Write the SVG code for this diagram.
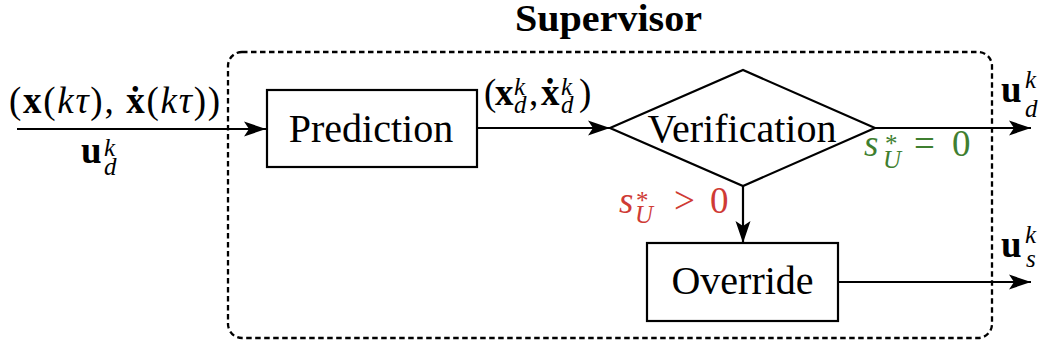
<svg xmlns="http://www.w3.org/2000/svg" width="1047" height="350" viewBox="0 0 1047 350">
  <style>
    .box { fill: #fff; stroke: #000; stroke-width: 2.2; }
    .wire { fill: none; stroke: #000; stroke-width: 2.2; marker-end: url(#arrow); }
    .frame { fill: none; stroke: #000; stroke-width: 2.3; stroke-dasharray: 5.5 3.5; }
    .lbl { font-family: "Liberation Serif", "Times New Roman", serif; font-size: 40px; fill: #000; }
    .title { font-family: "Liberation Serif", "Times New Roman", serif; font-size: 38px; font-weight: bold; fill: #000; }
    .m { font-family: "Liberation Serif", "Times New Roman", serif; font-size: 37px; fill: #000; }
    .b { font-weight: bold; }
    .i { font-style: italic; }
    .s { font-size: 25px; }
    .red { fill: #cf3b35; }
    .green { fill: #3f7f30; }
  </style>
  <defs>
    <marker id="arrow" markerUnits="userSpaceOnUse" viewBox="0 0 22 16" refX="22" refY="8" markerWidth="22" markerHeight="16" orient="auto">
      <path d="M0,0.5 L22,8 L0,15.5 L5,8 Z" fill="#000"/>
    </marker>
  </defs>

  <!-- supervisor frame and its title -->
  <g id="supervisor">
    <rect class="frame" x="228" y="52" width="764" height="286" rx="14" ry="14"/>
    <text class="title" x="515" y="31" textLength="187" lengthAdjust="spacingAndGlyphs">Supervisor</text>
  </g>

  <!-- connectors -->
  <g id="connectors">
    <path class="wire" d="M17,129 H266"/>
    <path class="wire" d="M477,128 H610"/>
    <path class="wire" d="M875,128 H1031"/>
    <path class="wire" d="M743,186 V243"/>
    <path class="wire" d="M838,282 H1031"/>
  </g>

  <g id="prediction">
    <rect class="box" x="267" y="90" width="210" height="77"/>
    <text class="lbl" x="371" y="142" text-anchor="middle">Prediction</text>
  </g>

  <g id="verification">
    <path class="box" d="M610,128 L743,70 L875,128 L743,186 Z"/>
    <text class="lbl" x="742" y="142" text-anchor="middle">Verification</text>
  </g>

  <g id="override">
    <rect class="box" x="647" y="243" width="191" height="78"/>
    <text class="lbl" x="742.5" y="294" text-anchor="middle">Override</text>
  </g>

  <!-- edge labels -->
  <g id="labels">
    <text class="m" x="9" y="113" textLength="211" lengthAdjust="spacing">(<tspan class="b">x</tspan>(<tspan class="i">kτ</tspan>), <tspan class="b">ẋ</tspan>(<tspan class="i">kτ</tspan>))</text>
    <text class="m"><tspan class="b" x="81" y="163">u</tspan><tspan class="i s" x="104" y="156">k</tspan><tspan class="i s" x="104" y="175">d</tspan></text>

    <text class="m"><tspan x="484" y="105">(</tspan><tspan class="b" x="495" y="105">x</tspan><tspan class="i s" x="514" y="95">k</tspan><tspan class="i s" x="514" y="113">d</tspan><tspan x="529" y="105">,</tspan><tspan class="b" x="541" y="105">ẋ</tspan><tspan class="i s" x="561" y="95">k</tspan><tspan class="i s" x="561" y="113">d</tspan><tspan x="579" y="105">)</tspan></text>

    <text class="m"><tspan class="b" x="1001" y="102">u</tspan><tspan class="i s" x="1025" y="88">k</tspan><tspan class="i s" x="1025" y="117">d</tspan></text>
    <text class="m"><tspan class="b" x="1001" y="257">u</tspan><tspan class="i s" x="1025" y="243">k</tspan><tspan class="i s" x="1026" y="267">s</tspan></text>

    <text class="m green"><tspan class="i" x="864" y="156">s</tspan><tspan class="s" x="885" y="152">*</tspan><tspan class="i s" x="883" y="168">U</tspan><tspan x="914" y="156">=</tspan><tspan x="952" y="156">0</tspan></text>
    <text class="m red"><tspan class="i" x="619" y="213">s</tspan><tspan class="s" x="636" y="209">*</tspan><tspan class="i s" x="635" y="223">U</tspan><tspan x="674" y="213">&gt;</tspan><tspan x="710" y="213">0</tspan></text>
  </g>
</svg>
